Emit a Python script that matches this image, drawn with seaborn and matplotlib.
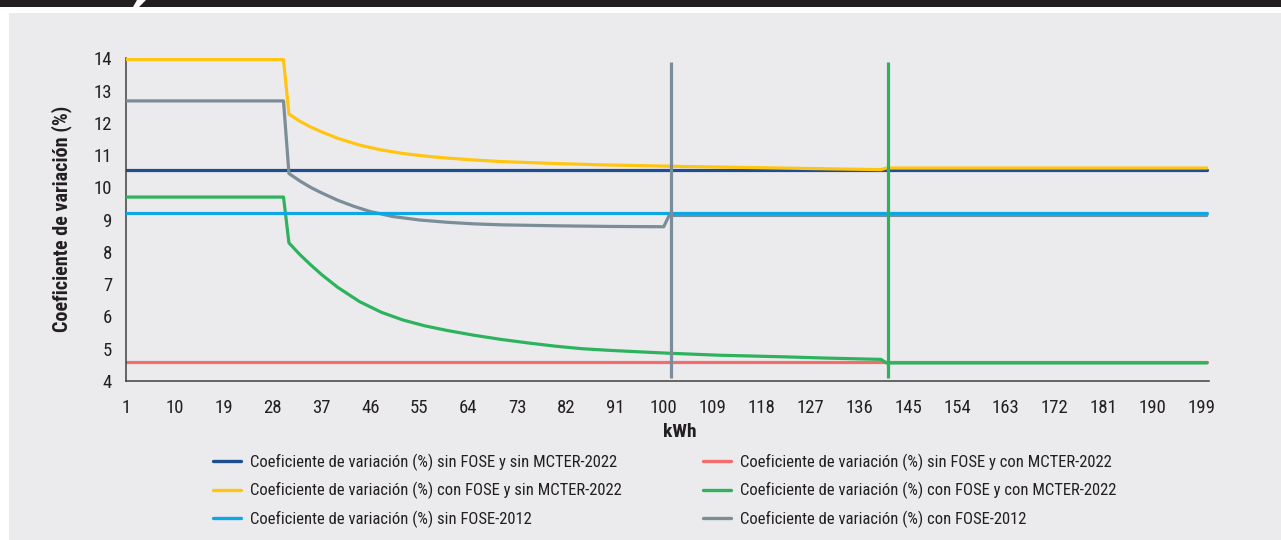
import matplotlib
matplotlib.use("Agg")
import matplotlib.pyplot as plt
from matplotlib import font_manager
from matplotlib.patches import Rectangle, Polygon
from matplotlib.lines import Line2D
import seaborn as sns

# ---------------- data ----------------
labels = [
    "Coeficiente de variación (%) sin FOSE y sin MCTER-2022",
    "Coeficiente de variación (%) con FOSE y sin MCTER-2022",
    "Coeficiente de variación (%) sin FOSE-2012",
    "Coeficiente de variación (%) sin FOSE y con MCTER-2022",
    "Coeficiente de variación (%) con FOSE y con MCTER-2022",
    "Coeficiente de variación (%) con FOSE-2012",
]
colors = ["#1D4E8F", "#FFC512", "#0FA7E3", "#F26D6B", "#2DB35E", "#7A8D98"]

x_flat = [1, 200]
sin_fose_sin_mcter = [10.53, 10.53]
sin_fose_con_mcter = [4.59, 4.59]
sin_fose_2012 = [9.20, 9.20]

x_yellow = [1, 30, 31, 33, 35, 37, 40, 44, 48, 52, 56, 60, 65, 70, 80, 88, 100,
            110, 125, 140, 141, 200]
con_fose_sin_mcter = [13.96, 13.96, 12.27, 12.05, 11.87, 11.72, 11.52, 11.31, 11.16,
                      11.05, 10.97, 10.91, 10.85, 10.80, 10.74, 10.70, 10.66,
                      10.63, 10.59, 10.55, 10.60, 10.60]

x_green = [1, 30, 31, 33, 35, 37, 40, 44, 48, 52, 56, 60, 65, 70, 75, 80, 85, 90,
           96, 101, 110, 122, 130, 140, 141, 200]
con_fose_con_mcter = [9.70, 9.70, 8.28, 7.92, 7.60, 7.30, 6.90, 6.46, 6.13, 5.89,
                      5.71, 5.57, 5.42, 5.29, 5.18, 5.08, 5.00, 4.95, 4.90, 4.86,
                      4.80, 4.75, 4.71, 4.67, 4.56, 4.56]

x_gray = [1, 30, 31, 33, 35, 37, 40, 43, 46, 50, 55, 60, 65, 70, 80, 90, 100,
          101, 200]
con_fose_2012 = [12.68, 12.68, 10.43, 10.20, 10.00, 9.83, 9.60, 9.41, 9.25, 9.10,
                 8.99, 8.92, 8.87, 8.84, 8.81, 8.79, 8.78, 9.13, 9.13]

vline_x = [101.4, 141.3]
vline_y = [4.09, 13.88]
vline_colors = ["#7A8D98", "#2DB35E"]

x_ticks = list(range(1, 201, 9))
y_ticks = list(range(4, 15))

# ---------------- style ----------------
sns.set_theme(style="white")
names = {f.name for f in font_manager.fontManager.ttflist}
fam = None
for cand in ["Roboto Condensed", "Liberation Sans Narrow", "Open Sans Condensed",
             "DejaVu Sans Condensed", "DejaVu Sans"]:
    if cand in names:
        fam = cand
        break
plt.rcParams["font.family"] = [fam, "DejaVu Sans"]

W, H = 1281, 540
fig = plt.figure(figsize=(W / 100, H / 100), dpi=100, facecolor="white")

# background panel and header
bg = "#EBEBED"
fig.patches.append(Rectangle((9 / W, 0), 1 - 9 / W, 1 - 13 / H, transform=fig.transFigure,
                             facecolor=bg, edgecolor="none", zorder=-10))
fig.patches.append(Polygon([(0, 1), (137 / W, 1), (133 / W, 1 - 7 / H), (0, 1 - 7 / H)],
                           closed=True, transform=fig.transFigure, facecolor="#231F20",
                           edgecolor="none", zorder=-9))
fig.patches.append(Polygon([(146 / W, 1), (1, 1), (1, 1 - 7 / H), (139 / W, 1 - 7 / H)],
                           closed=True, transform=fig.transFigure, facecolor="#231F20",
                           edgecolor="none", zorder=-9))

ax_l, ax_r, ax_t, ax_b = 126, 1209, 58.3, 381
ax = fig.add_axes([ax_l / W, 1 - ax_b / H, (ax_r - ax_l) / W, (ax_b - ax_t) / H])
ax.set_facecolor("none")

lw = 2.3
sns.lineplot(x=x_flat, y=sin_fose_sin_mcter, color=colors[0], lw=lw, ax=ax, zorder=2)
sns.lineplot(x=x_flat, y=sin_fose_con_mcter, color=colors[3], lw=lw, ax=ax, zorder=2)
sns.lineplot(x=x_yellow, y=con_fose_sin_mcter, color=colors[1], lw=lw, ax=ax, zorder=3)
sns.lineplot(x=x_green, y=con_fose_con_mcter, color=colors[4], lw=lw, ax=ax, zorder=3)
sns.lineplot(x=x_gray, y=con_fose_2012, color=colors[5], lw=lw, ax=ax, zorder=3)
sns.lineplot(x=x_flat, y=sin_fose_2012, color=colors[2], lw=lw, ax=ax, zorder=4)
for vx, vc in zip(vline_x, vline_colors):
    ax.plot([vx, vx], vline_y, color=vc, lw=lw, zorder=5, solid_capstyle="butt")

ax.set_xlim(1, 200.4)
ax.set_ylim(4, 14)
ax.set_xticks(x_ticks)
ax.set_yticks(y_ticks)
ax.tick_params(axis="both", which="both", direction="out", length=4, width=1,
               color="#404040", labelsize=13.5, labelcolor="#231F20")
ax.tick_params(axis="x", pad=9)
ax.tick_params(axis="y", pad=6)
for s in ["top", "right"]:
    ax.spines[s].set_visible(False)
for s in ["left", "bottom"]:
    ax.spines[s].set_color("#404040")
    ax.spines[s].set_linewidth(1.1)

ax.set_xlabel("kWh", fontsize=14, fontweight="bold", color="#231F20")
ax.xaxis.set_label_coords((680 - ax_l) / (ax_r - ax_l), -(423 - ax_b) / (ax_b - ax_t))
ax.set_ylabel("Coeficiente de variación (%)", fontsize=14.5, fontweight="bold",
              color="#231F20")
ax.yaxis.set_label_coords((72 - ax_l) / (ax_r - ax_l), (ax_b - 219) / (ax_b - ax_t))

# legends (two columns)
fs = 12
handles = [Line2D([], [], color=c, lw=2.4) for c in colors]
common = dict(frameon=False, fontsize=fs, loc="center left", borderpad=0,
              borderaxespad=0, handlelength=1.68, handletextpad=0.55, labelspacing=0.66,
              labelcolor="#231F20", bbox_transform=fig.transFigure)
leg1 = fig.legend(handles[:3], labels[:3], bbox_to_anchor=(213 / W, 1 - 490.7 / H), **common)
leg2 = fig.legend(handles[3:], labels[3:], bbox_to_anchor=(703 / W, 1 - 490.7 / H), **common)

fig.savefig("out.png", dpi=100, facecolor="white")
